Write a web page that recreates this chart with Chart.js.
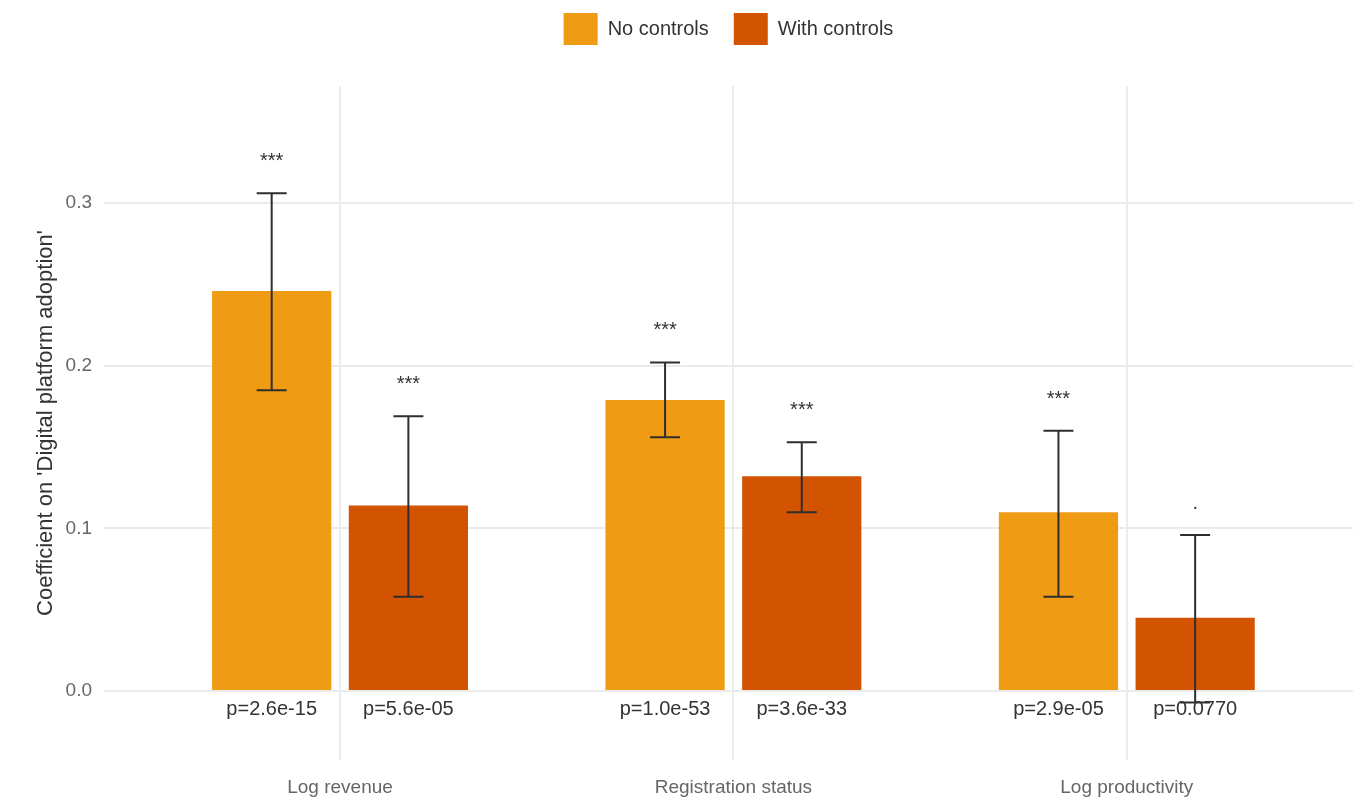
<!DOCTYPE html>
<html lang="en">
<head>
    <meta charset="UTF-8">
    <title>Digital platform adoption</title>
    <style>
        body {
            margin: 0;
            background-color: #ffffff;
        }
        .container {
            width: 1353px;
            height: 800px;
        }
    </style>
    <script src="https://cdn.jsdelivr.net/npm/chart.js"></script>
</head>
<body>
    <div class="container">
        <canvas id="graficoCoef"></canvas>
    </div>

    <script>
        // Outcomes on the x axis
        const outcomes = ['Log revenue', 'Registration status', 'Log productivity'];
        const seriesNames = ['No controls', 'With controls'];

        // Coefficients and interval ends, no controls
        const coefNoControls = [0.246, 0.179, 0.110];
        const lowNoControls = [0.185, 0.156, 0.058];
        const highNoControls = [0.306, 0.202, 0.160];

        // Coefficients and interval ends, with controls
        const coefWithControls = [0.114, 0.132, 0.045];
        const lowWithControls = [0.058, 0.110, -0.007];
        const highWithControls = [0.169, 0.153, 0.096];

        // Significance marks and p-values
        const starsNoControls = ['***', '***', '***'];
        const starsWithControls = ['***', '***', '.'];
        const pNoControls = ['p=2.6e-15', 'p=1.0e-53', 'p=2.9e-05'];
        const pWithControls = ['p=5.6e-05', 'p=3.6e-33', 'p=0.0770'];

        const yTicks = [0, 0.1, 0.2, 0.3];

        const fontFamily = '"Liberation Sans", Arial, sans-serif';
        Chart.defaults.font.family = fontFamily;

        // Error bars, stars above them and p-values under each bar
        const errorBars = {
            id: 'errorBars',
            afterDatasetsDraw(chart) {
                const ctx = chart.ctx;
                const yScale = chart.scales.y;
                const zero = yScale.getPixelForValue(0);
                chart.data.datasets.forEach((ds, i) => {
                    const meta = chart.getDatasetMeta(i);
                    meta.data.forEach((bar, j) => {
                        const top = yScale.getPixelForValue(ds.high[j]);
                        const bottom = yScale.getPixelForValue(ds.low[j]);
                        ctx.save();
                        ctx.strokeStyle = '#2e2e2e';
                        ctx.lineWidth = 2;
                        ctx.beginPath();
                        ctx.moveTo(bar.x, top);
                        ctx.lineTo(bar.x, bottom);
                        ctx.moveTo(bar.x - 15, top);
                        ctx.lineTo(bar.x + 15, top);
                        ctx.moveTo(bar.x - 15, bottom);
                        ctx.lineTo(bar.x + 15, bottom);
                        ctx.stroke();

                        ctx.fillStyle = '#333333';
                        ctx.textAlign = 'center';
                        ctx.textBaseline = 'alphabetic';
                        ctx.font = '20px ' + fontFamily;
                        ctx.fillText(ds.stars[j], bar.x, top - 26);
                        ctx.fillText(ds.pvals[j], bar.x, zero + 24);
                        ctx.restore();
                    });
                });
            }
        };

        // Extra room between the legend and the plot
        const legendSpace = {
            id: 'legendSpace',
            afterInit(chart) {
                const fit = chart.legend.fit;
                chart.legend.fit = function () {
                    fit.call(this);
                    this.height = 98;
                };
            }
        };

        const ctxCoef = document.getElementById('graficoCoef').getContext('2d');
        const graficoCoef = new Chart(ctxCoef, {
            type: 'bar',
            data: {
                datasets: [
                    {
                        label: seriesNames[0],
                        data: coefNoControls.map((v, i) => ({ x: i, y: v })),
                        low: lowNoControls,
                        high: highNoControls,
                        stars: starsNoControls,
                        pvals: pNoControls,
                        backgroundColor: '#EF9B14',
                        borderWidth: 0
                    },
                    {
                        label: seriesNames[1],
                        data: coefWithControls.map((v, i) => ({ x: i, y: v })),
                        low: lowWithControls,
                        high: highWithControls,
                        stars: starsWithControls,
                        pvals: pWithControls,
                        backgroundColor: '#D25400',
                        borderWidth: 0
                    }
                ]
            },
            options: {
                responsive: true,
                maintainAspectRatio: false,
                animation: false,
                categoryPercentage: 0.695,
                barPercentage: 0.872,
                layout: { padding: { top: -12, right: 0, bottom: 0, left: 0 } },
                plugins: {
                    legend: {
                        position: 'top',
                        fullSize: false,
                        labels: {
                            boxWidth: 34,
                            boxHeight: 32,
                            padding: 25,
                            color: '#333333',
                            font: { size: 20 }
                        }
                    },
                    tooltip: { enabled: false }
                },
                scales: {
                    x: {
                        type: 'linear',
                        offset: false,
                        min: -0.6,
                        max: 2.575,
                        afterBuildTicks: (s) => { s.ticks = outcomes.map((_, i) => ({ value: i })); },
                        afterFit: (s) => { s.height = 40; },
                        grid: { color: '#ebebeb', lineWidth: 2, drawTicks: false, offset: false },
                        border: { display: false },
                        ticks: {
                            callback: (v) => outcomes[v],
                            color: '#666666',
                            font: { size: 19 },
                            padding: 16,
                            maxRotation: 0,
                            autoSkip: false
                        }
                    },
                    y: {
                        min: -0.0424,
                        max: 0.372,
                        afterBuildTicks: (s) => { s.ticks = yTicks.map((v) => ({ value: v })); },
                        afterFit: (s) => { s.width = 104; },
                        grid: { color: '#ebebeb', lineWidth: 2, drawTicks: false },
                        border: { display: false },
                        ticks: {
                            callback: (v) => v.toFixed(1),
                            color: '#666666',
                            font: { size: 19 },
                            padding: 12
                        },
                        title: {
                            display: true,
                            text: "Coefficient on 'Digital platform adoption'",
                            color: '#333333',
                            font: { size: 22 },
                            padding: { top: 33, bottom: 0 }
                        }
                    }
                }
            },
            plugins: [errorBars, legendSpace]
        });
    </script>
</body>
</html>
